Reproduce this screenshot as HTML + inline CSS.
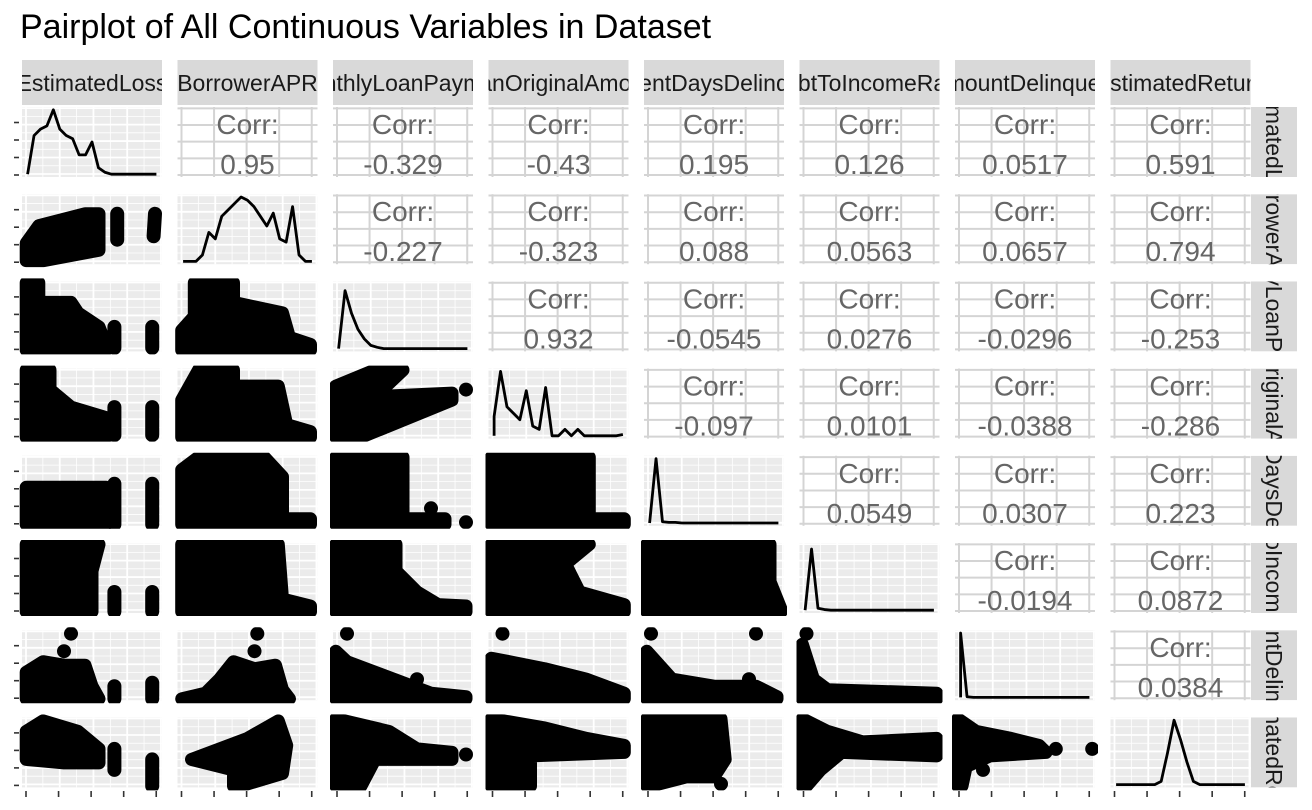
<!DOCTYPE html>
<html><head><meta charset="utf-8"><style>
body{margin:0;background:#fff;}
svg{display:block;font-family:"Liberation Sans",Arial,sans-serif;}
</style></head><body>
<svg id="c" width="1312" height="810">
<text x="20" y="38" font-size="34" fill="#000">Pairplot of All Continuous Variables in Dataset</text>
</svg>
<script>
const vars=["EstimatedLoss","BorrowerAPR","MonthlyLoanPayment","LoanOriginalAmount","CurrentDaysDelinquent","DebtToIncomeRatio","AmountDelinquent","EstimatedReturn"];
const corrValues={"0-1":"0.95","0-2":"-0.329","0-3":"-0.43","0-4":"0.195","0-5":"0.126","0-6":"0.0517","0-7":"0.591",
"1-2":"-0.227","1-3":"-0.323","1-4":"0.088","1-5":"0.0563","1-6":"0.0657","1-7":"0.794",
"2-3":"0.932","2-4":"-0.0545","2-5":"0.0276","2-6":"-0.0296","2-7":"-0.253",
"3-4":"-0.097","3-5":"0.0101","3-6":"-0.0388","3-7":"-0.286",
"4-5":"0.0549","4-6":"0.0307","4-7":"0.223","5-6":"-0.0194","5-7":"0.0872","6-7":"0.0384"};
const densities=[
[0,0.6,0.7,0.75,1.0,0.7,0.6,0.55,0.3,0.3,0.5,0.1,0.03,0,0,0,0,0,0,0,0],
[0,0,0,0.1,0.45,0.35,0.7,0.8,0.9,1.0,0.95,0.85,0.7,0.55,0.75,0.35,0.3,0.85,0.1,0,0],
[0,0.9,0.55,0.3,0.15,0.05,0.02,0,0,0,0,0,0,0,0,0,0,0,0,0,0],
[0.3,1.0,0.45,0.35,0.25,0.7,0.15,0.1,0.75,0,0,0.1,0,0.1,0,0,0,0,0,0,0.02],
[0,1.0,0.02,0.01,0.01,0,0,0,0,0,0,0,0,0,0,0,0,0,0,0,0],
[0,0.95,0.03,0.01,0,0,0,0,0,0,0,0,0,0,0,0,0,0,0,0,0],
[1.0,0.01,0,0,0,0,0,0,0,0,0,0,0,0,0,0,0,0,0,0,0],
[0,0,0,0,0,0,0,0.05,0.5,1.0,0.7,0.35,0.05,0,0,0,0,0,0,0,0]];
const scatterShapes={
"1-0":[[[0.03,0.05],[0.03,0.3],[0.12,0.55],[0.45,0.72],[0.55,0.72],[0.55,0.2],[0.15,0.05]],[[0.68,0.35],[0.68,0.72]],[[0.94,0.4],[0.95,0.72]]],
"2-0":[[[0.03,0.02],[0.03,0.98],[0.12,0.98],[0.12,0.7],[0.35,0.7],[0.4,0.55],[0.55,0.35],[0.6,0.1],[0.6,0.02]],[[0.66,0.05],[0.66,0.35]],[[0.93,0.05],[0.93,0.35]]],
"2-1":[[[0.03,0.02],[0.03,0.3],[0.12,0.5],[0.12,0.98],[0.4,0.98],[0.4,0.7],[0.75,0.55],[0.8,0.2],[0.95,0.1],[0.95,0.02]]],
"3-0":[[[0.03,0.02],[0.03,0.98],[0.2,0.98],[0.2,0.7],[0.35,0.45],[0.6,0.3],[0.6,0.02]],[[0.66,0.05],[0.66,0.45]],[[0.93,0.05],[0.93,0.45]]],
"3-1":[[[0.03,0.02],[0.03,0.55],[0.15,0.98],[0.4,0.98],[0.4,0.75],[0.72,0.75],[0.78,0.2],[0.95,0.1],[0.95,0.02]]],
"3-2":[[[0.02,0.02],[0.02,0.75],[0.3,0.98],[0.5,0.98],[0.3,0.6],[0.85,0.65],[0.85,0.55],[0.2,0.02]],[[0.95,0.7]]],
"4-0":[[[0.03,0.02],[0.03,0.55],[0.6,0.55],[0.6,0.02]],[[0.66,0.02],[0.66,0.6]],[[0.93,0.02],[0.93,0.6]]],
"4-1":[[[0.03,0.02],[0.03,0.8],[0.15,0.98],[0.62,0.98],[0.75,0.7],[0.75,0.1],[0.95,0.1],[0.95,0.02]]],
"4-2":[[[0.02,0.02],[0.02,0.98],[0.5,0.98],[0.5,0.1],[0.8,0.1],[0.8,0.02]],[[0.7,0.25]],[[0.95,0.05]]],
"4-3":[[[0.02,0.02],[0.02,0.98],[0.72,0.98],[0.72,0.1],[0.97,0.1],[0.97,0.02]]],
"5-0":[[[0.03,0.02],[0.03,0.98],[0.55,0.98],[0.5,0.6],[0.5,0.02]],[[0.66,0.02],[0.66,0.3]],[[0.93,0.02],[0.93,0.3]]],
"5-1":[[[0.03,0.02],[0.03,0.98],[0.72,0.98],[0.75,0.2],[0.95,0.1],[0.95,0.02],[0.15,0.02]]],
"5-2":[[[0.02,0.02],[0.02,0.98],[0.45,0.98],[0.45,0.6],[0.6,0.3],[0.75,0.12],[0.95,0.1],[0.95,0.02]],[[0.37,0.8]]],
"5-3":[[[0.02,0.02],[0.02,0.98],[0.72,0.98],[0.55,0.7],[0.65,0.3],[0.97,0.12],[0.97,0.02]],[[0.55,0.75]]],
"5-4":[[[0.02,0.02],[0.02,0.98],[0.9,0.98],[0.9,0.45],[0.98,0.05],[0.98,0.02]]],
"6-0":[[[0.03,0.02],[0.03,0.4],[0.15,0.55],[0.3,0.5],[0.45,0.5],[0.5,0.2],[0.55,0.02]],[[0.35,0.95]],[[0.3,0.7]],[[0.66,0.02],[0.66,0.2]],[[0.93,0.02],[0.93,0.25]]],
"6-1":[[[0.03,0.02],[0.2,0.1],[0.3,0.3],[0.4,0.55],[0.55,0.45],[0.7,0.5],[0.75,0.15],[0.8,0.02]],[[0.57,0.95]],[[0.55,0.7]]],
"6-2":[[[0.02,0.02],[0.02,0.7],[0.1,0.55],[0.3,0.4],[0.5,0.25],[0.7,0.1],[0.95,0.05],[0.95,0.02]],[[0.1,0.95]],[[0.6,0.3]]],
"6-3":[[[0.02,0.02],[0.02,0.6],[0.15,0.55],[0.4,0.45],[0.7,0.3],[0.97,0.1],[0.97,0.02]],[[0.1,0.95]]],
"6-4":[[[0.02,0.02],[0.02,0.7],[0.2,0.3],[0.5,0.2],[0.8,0.2],[0.95,0.05],[0.95,0.02]],[[0.05,0.95]],[[0.8,0.95]],[[0.75,0.3]]],
"6-5":[[[0.02,0.02],[0.02,0.8],[0.1,0.3],[0.2,0.15],[0.98,0.1],[0.98,0.02]],[[0.05,0.95]]],
"7-0":[[[0.03,0.4],[0.03,0.8],[0.15,0.95],[0.4,0.8],[0.55,0.55],[0.55,0.35],[0.3,0.35]],[[0.66,0.25],[0.66,0.55]],[[0.93,0.02],[0.93,0.4]]],
"7-1":[[[0.1,0.4],[0.5,0.7],[0.72,0.95],[0.78,0.6],[0.75,0.2],[0.5,0.05],[0.4,0.02],[0.4,0.25]]],
"7-2":[[[0.02,0.02],[0.02,0.98],[0.4,0.8],[0.6,0.55],[0.85,0.5],[0.85,0.4],[0.3,0.4],[0.2,0.02]],[[0.95,0.47]]],
"7-3":[[[0.02,0.02],[0.02,0.98],[0.4,0.85],[0.7,0.7],[0.97,0.6],[0.97,0.5],[0.3,0.45],[0.3,0.02]]],
"7-4":[[[0.02,0.02],[0.02,0.98],[0.55,0.98],[0.58,0.4],[0.5,0.15],[0.3,0.15],[0.05,0.02]],[[0.55,0.05]]],
"7-5":[[[0.02,0.02],[0.02,0.98],[0.2,0.8],[0.45,0.65],[0.98,0.7],[0.98,0.45],[0.3,0.5],[0.15,0.25],[0.05,0.02]]],
"7-6":[[[0.02,0.02],[0.02,0.98],[0.15,0.8],[0.4,0.7],[0.6,0.6],[0.65,0.5],[0.25,0.45],[0.08,0.3],[0.05,0.02]],[[0.72,0.55]],[[0.98,0.55]],[[0.2,0.25]]]
};
const NS="http://www.w3.org/2000/svg",svg=document.getElementById('c');
const X0=22,XS=155.5,PW=140,Y0=107,YS=87.2,PH=70;
function mk(t,a,p){const e=document.createElementNS(NS,t);for(const k in a)e.setAttribute(k,a[k]);(p||svg).appendChild(e);return e;}
const colX=i=>X0+i*XS, rowY=j=>Y0+j*YS;
const clip=mk('defs',{});
for(let i=0;i<8;i++){
  const cp=mk('clipPath',{id:'ct'+i},clip);mk('rect',{x:colX(i),y:60,width:PW,height:45},cp);
  const g=mk('g',{'clip-path':'url(#ct'+i+')'});
  
  
  mk('rect',{x:colX(i),y:60,width:PW,height:45,fill:'#d9d9d9'},g);
  const t=mk('text',{x:colX(i)+PW/2,y:91,'font-size':23,'text-anchor':'middle',fill:'#1a1a1a'},g);t.textContent=vars[i];
  const cp2=mk('clipPath',{id:'cr'+i},clip);mk('rect',{x:1251,y:rowY(i),width:46,height:PH},cp2);
  const g2=mk('g',{'clip-path':'url(#cr'+i+')'});
  
  
  mk('rect',{x:1251,y:rowY(i),width:46,height:PH,fill:'#d9d9d9'},g2);
  const cy=rowY(i)+PH/2;
  const t2=mk('text',{x:1266,y:cy,'font-size':23,'text-anchor':'middle',fill:'#1a1a1a',transform:`rotate(90 1266 ${cy})`},g2);t2.textContent=vars[i];
  for(let k=0;k<4;k++){mk('line',{x1:14,x2:19,y1:rowY(i)+PH-2-k*PH/4,y2:rowY(i)+PH-2-k*PH/4,stroke:'#333','stroke-width':1.6});}
  for(let k=0;k<5;k++){const x=colX(i)+4+k*PW/4.3;mk('line',{x1:x,x2:x,y1:791,y2:797,stroke:'#333','stroke-width':1.6});}
}
function gridBg(px,py,g){
  mk('rect',{x:px,y:py,width:PW,height:PH,fill:'#ebebeb'},g);
  for(let k=0;k<9;k++){const x=px+4+k*PW/8.3;mk('line',{x1:x,x2:x,y1:py,y2:py+PH,stroke:'#fff','stroke-width':k%2?0.8:1.8},g);}
  for(let k=0;k<9;k++){const y=py+PH-3-k*PH/8.5;mk('line',{x1:px,x2:px+PW,y1:y,y2:y,stroke:'#fff','stroke-width':k%2?0.8:1.8},g);}
}
for(let r=0;r<8;r++)for(let c=0;c<8;c++){
  const px=colX(c),py=rowY(r);
  const g=mk('g',{});
  const sx=v=>px+v*PW, sy=v=>py+PH-v*PH;
  if(r<c){
    
    
    mk('rect',{x:px,y:py,width:PW,height:PH,fill:'#fff'},g);
    for(let k=0;k<5;k++){const x=px+4+k*PW/4.3;mk('line',{x1:x,x2:x,y1:py,y2:py+PH,stroke:'#d4d4d4','stroke-width':2},g);}
    for(let k=0;k<5;k++){const y=py+PH-2-k*PH/4.2;mk('line',{x1:px,x2:px+PW,y1:y,y2:y,stroke:'#d4d4d4','stroke-width':2},g);}
    const a=mk('text',{x:px+PW/2,y:py+27,'font-size':28,'text-anchor':'middle',fill:'#666'},g);a.textContent='Corr:';
    const b=mk('text',{x:px+PW/2,y:py+67,'font-size':28,'text-anchor':'middle',fill:'#666'},g);b.textContent=corrValues[r+'-'+c];
  } else if(r===c){
    
    
    gridBg(px,py,g);
    const d=densities[r];const n=d.length;
    let pts=d.map((v,k)=>[sx(0.04+k/(n-1)*0.92),sy(0.04+v*0.92)]);
    pts.unshift([sx(0.04),sy(0.04)]);
    const p=mk('polyline',{points:pts.map(q=>q.join(',')).join(' '),fill:'none',stroke:'#000','stroke-width':2.8,'stroke-linejoin':'round'},g);
    
    
  } else {
    
    
    gridBg(px,py,g);
    const cp=mk('clipPath',{id:'cs'+r+c},clip);mk('rect',{x:px-3,y:py-3,width:PW+6,height:PH+6},cp);
    const gg=mk('g',{'clip-path':'url(#cs'+r+c+')'},g);
    (scatterShapes[r+'-'+c]||[]).forEach(sh=>{
      const ptsS=sh.map(q=>[sx(q[0]),sy(q[1])]);
      let e;
      if(ptsS.length===1){e=mk('circle',{cx:ptsS[0][0],cy:ptsS[0][1],r:7,fill:'#000'},gg);}
      else if(ptsS.length===2){e=mk('line',{x1:ptsS[0][0],y1:ptsS[0][1],x2:ptsS[1][0],y2:ptsS[1][1],stroke:'#000','stroke-width':14,'stroke-linecap':'round'},gg);}
      else{e=mk('polygon',{points:ptsS.map(q=>q.join(',')).join(' '),fill:'#000',stroke:'#000','stroke-width':13,'stroke-linejoin':'round'},gg);}
      
      
    });
  }
}
</script>
</body></html>
